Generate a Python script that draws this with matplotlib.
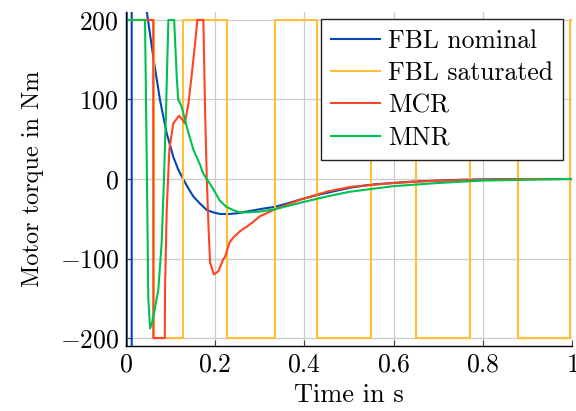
import matplotlib
matplotlib.use("Agg")
import matplotlib.pyplot as plt
from matplotlib.ticker import FuncFormatter

plt.rcParams['font.family'] = 'serif'
plt.rcParams['font.serif'] = ['cmr10']
plt.rcParams['mathtext.fontset'] = 'cm'
plt.rcParams['axes.formatter.use_mathtext'] = True
plt.rcParams['axes.unicode_minus'] = False

# ---------------- data ----------------
# FBL nominal
t_fbl_nom = [0.0, 0.0015, 0.0016, 0.0127, 0.0128, 0.03, 0.046, 0.061, 0.076, 0.091,
             0.106, 0.117, 0.129, 0.14, 0.151, 0.166, 0.181, 0.196, 0.211, 0.233, 0.25, 0.28,
             0.31, 0.334, 0.36, 0.39, 0.43, 0.47, 0.502, 0.55, 0.6, 0.65,
             0.7, 0.75, 0.8, 0.9, 1.0]
v_fbl_nom = [3000, 3000, -3000, -3000, 3000, 700, 213, 154, 100, 58,
             28, 12, -1, -12, -22, -31, -39, -42, -44, -44, -43, -40,
             -37, -35, -31, -26, -20, -15, -11, -7, -5, -3,
             -2, -1, -0.5, 0, 0]

# FBL saturated (bang-bang switching)
t_fbl_sat = [0.0, 0.063, 0.128, 0.227, 0.334, 0.429, 0.549, 0.651, 0.772, 0.879, 0.996, 1.0]
v_fbl_sat = [200, -200, 200, -200, 200, -200, 200, -200, 200, -200, 200, 200]

# MCR
t_mcr = [0.0, 0.0610, 0.0612, 0.087, 0.0875, 0.0913, 0.0972, 0.106, 0.119, 0.127,
         0.132, 0.140, 0.147, 0.155, 0.160, 0.1735, 0.1773, 0.181, 0.185, 0.1885,
         0.197, 0.207, 0.218, 0.222, 0.232, 0.24, 0.255, 0.265, 0.271, 0.285,
         0.30, 0.334, 0.39, 0.45, 0.502, 0.6, 0.7, 0.8, 0.9, 1.0]
v_mcr = [200, 200, -200, -200, -139, -39, 37, 70, 79.5, 74,
         70, 95, 129, 171, 200, 200, 87, 3, -60, -105,
         -120, -116, -101, -98, -80, -74, -66, -62, -60, -54,
         -47, -38, -26, -16, -10, -5, -2, -1, 0, 0]

# MNR
t_mnr = [0.0, 0.0426, 0.047, 0.050, 0.054, 0.058, 0.064, 0.0725, 0.080, 0.0853,
         0.0898, 0.095, 0.108, 0.1137, 0.117, 0.1247, 0.136, 0.151, 0.166, 0.173,
         0.181, 0.196, 0.21, 0.225, 0.24, 0.255, 0.27, 0.3, 0.334, 0.39,
         0.45, 0.502, 0.6, 0.7, 0.8, 0.9, 1.0]
v_mnr = [200, 200, 0, -150, -188, -182, -165, -139, -80, 3,
         87, 200, 200, 129, 100, 91, 66, 37, 18, 7,
         0, -13, -27, -35, -39, -42, -42, -41, -38, -30,
         -22, -16, -9, -5, -2, -1, 0]

x_ticks = [0, 0.2, 0.4, 0.6, 0.8, 1.0]
y_ticks = [-200, -100, 0, 100, 200]

c_blue = '#0047B3'
c_orange = '#FFBE33'
c_red = '#FF4422'
c_green = '#00C050'

# ---------------- figure ----------------
fig = plt.figure(figsize=(5.76, 4.11), dpi=100)
ax = fig.add_axes([126/576, 65/411, 446/576, 334/411])

lw = 1.5
ax.plot(t_fbl_nom, v_fbl_nom, color=c_blue, lw=lw, label='FBL nominal')
ax.step(t_fbl_sat, v_fbl_sat, where='post', color=c_orange, lw=lw, label='FBL saturated')
ax.plot(t_mcr, v_mcr, color=c_red, lw=lw, label='MCR')
ax.plot(t_mnr, v_mnr, color=c_green, lw=lw, label='MNR')

ax.set_xlim(0, 1)
ax.set_ylim(-210, 210)
ax.set_xticks(x_ticks)
ax.set_yticks(y_ticks)
fmt = FuncFormatter(lambda v, p: '$%g$' % v)
ax.xaxis.set_major_formatter(fmt)
ax.yaxis.set_major_formatter(fmt)

ax.grid(True, color='#cccccc', lw=0.9)
ax.set_axisbelow(True)
for s in ['top', 'right']:
    ax.spines[s].set_visible(False)
for s in ['left', 'bottom']:
    ax.spines[s].set_linewidth(1.0)
    ax.spines[s].set_color('black')
ax.tick_params(direction='in', length=4, width=0.8, colors='#444444',
               labelcolor='black', labelsize=18.5, pad=5)

ax.set_xlabel('Time in s', fontsize=19, labelpad=5)
ax.set_ylabel('Motor torque in Nm', fontsize=17.5, labelpad=11)

leg = ax.legend(loc='upper right', bbox_to_anchor=(0.980, 0.979), fontsize=18.5,
                frameon=True, fancybox=False, framealpha=1, edgecolor='#222222',
                handlelength=1.9, handletextpad=0.3, borderpad=0.4,
                labelspacing=0.33, borderaxespad=0.0)
leg.get_frame().set_linewidth(1.0)

fig.savefig('out.png', dpi=100)
